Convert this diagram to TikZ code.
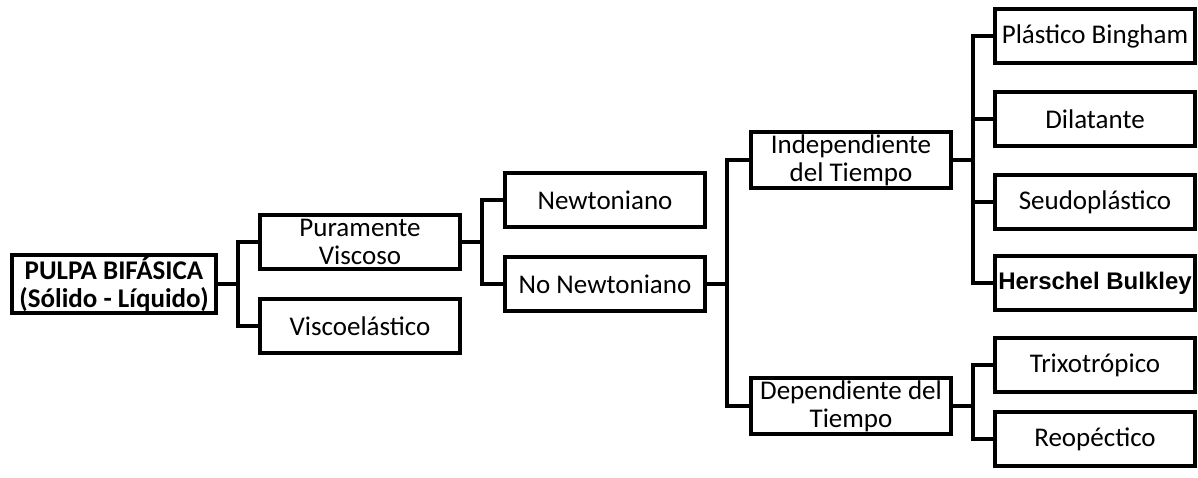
\documentclass[tikz,border=0pt]{standalone}
\usepackage{fontspec}
\setmainfont{Carlito}
\newfontfamily\arialfont{Liberation Sans}

\begin{document}
\begin{tikzpicture}[x=0.5pt,y=-0.5pt,
    box/.style={draw, line width=2pt, minimum width=100pt, minimum height=27pt,
      align=center, inner sep=1pt, font=\fontsize{13.5}{14}\selectfont},
    fork/.style={to path={-- ++(20,0) |- (\tikztotarget)}}]
  \useasboundingbox (0,0) rectangle (1198,477);
  \draw
    (114,284) node[box, minimum width=102pt, minimum height=29pt, font=\fontsize{13.5}{14}\selectfont\bfseries] (root){PULPA BIFÁSICA\\(Sólido - Líquido)}
    (360,242) node[box] (pv){Puramente\\Viscoso}
    (360,326) node[box] (ve){Viscoelástico}
    (605,200) node[box] (newt){Newtoniano}
    (605,284) node[box] (nonewt){No Newtoniano}
    (851,160) node[box] (indep){Independiente\\del Tiempo}
    (851,406) node[box] (dep){Dependiente del\\Tiempo}
    (1095,36) node[box] (bingham){Plástico Bingham}
    (1095,119) node[box] (dilat){Dilatante}
    (1095,202) node[box] (seudo){Seudoplástico}
    (1095,283) node[box, font=\fontsize{12}{12}\selectfont\arialfont\bfseries] (herschel){Herschel Bulkley}
    (1095,365) node[box] (trixo){Trixotrópico}
    (1095,439) node[box] (reo){Reopéctico};
  \begin{scope}[line width=2pt, fork]
    \draw (root.east) to (pv.west);
    \draw (root.east) to (ve.west);
    \draw (pv.east) to (newt.west);
    \draw (pv.east) to (nonewt.west);
    \draw (nonewt.east) to (indep.west);
    \draw (nonewt.east) to (dep.west);
    \draw (indep.east) to (bingham.west);
    \draw (indep.east) to (dilat.west);
    \draw (indep.east) to (seudo.west);
    \draw (indep.east) to (herschel.west);
    \draw (dep.east) to (trixo.west);
    \draw (dep.east) to (reo.west);
  \end{scope}
\end{tikzpicture}
\end{document}
